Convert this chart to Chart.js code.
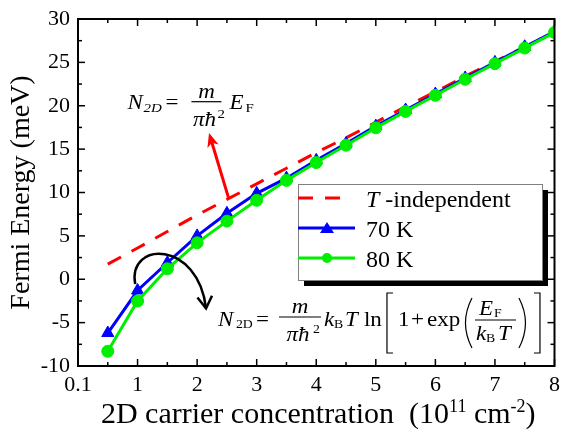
<!DOCTYPE html>
<html>
<head>
<meta charset="utf-8">
<script src="https://cdn.jsdelivr.net/npm/chart.js@4.4.0/dist/chart.umd.min.js"></script>
<style>
  html, body { margin: 0; padding: 0; background: #fff; }
</style>
</head>
<body>
<canvas id="chart" width="568" height="439"></canvas>
<script>
// carrier concentration (10^11 cm^-2); axis value 0 is labelled "0.1"
const concentration = [0.5, 1, 1.5, 2, 2.5, 3, 3.5, 4, 4.5, 5, 5.5, 6, 6.5, 7, 7.5, 8];
const tIndependent = [1.75, 3.6, 5.5, 7.4, 9.2, 11.0, 12.8, 14.6, 16.3, 18.1, 19.9, 21.6, 23.4, 25.1, 26.8, 28.5];
const fermi70K = [-6.2, -1.3, 1.9, 5.0, 7.6, 9.9, 11.65, 13.7, 15.65, 17.65, 19.5, 21.35, 23.2, 25.0, 26.8, 28.55];
const fermi80K = [-8.3, -2.5, 1.2, 4.2, 6.7, 9.1, 11.4, 13.45, 15.45, 17.45, 19.35, 21.2, 23.05, 24.85, 26.65, 28.45];
const xTickLabels = ["0.1", "1", "2", "3", "4", "5", "6", "7", "8"];
const seriesLabels = ["T -independent", "70 K", "80 K"];
// x title pieces: [text, is superscript]
const xTitleParts = [["2D carrier concentration  (10", false], ["11", true], [" cm", false], ["-2", true], [")", false]];

const serif = "'Liberation Serif', serif";

function pts(values) {
  return concentration.map((c, i) => ({ x: c, y: values[i] }));
}

function put(ctx, s, px, py, size, italic, align) {
  ctx.save();
  ctx.translate(px, py);
  ctx.scale(1.15, 1);
  ctx.font = (italic ? "italic " : "") + size + "px " + serif;
  ctx.textAlign = align || "left";
  ctx.textBaseline = "alphabetic";
  ctx.fillStyle = "#000";
  ctx.fillText(s, 0, 0);
  ctx.restore();
}

function seg(ctx, x1, y1, x2, y2) {
  ctx.beginPath();
  ctx.moveTo(x1, y1);
  ctx.lineTo(x2, y2);
  ctx.stroke();
}

// N2D = m / (pi hbar^2) E_F
function eqSimple(ctx, ax, ay) {
  put(ctx, "N", ax, ay, 20, true);
  put(ctx, "2D", ax + 16, ay + 3, 13, true);
  put(ctx, "=", ax + 38, ay, 20);
  put(ctx, "m", ax + 79, ay - 11, 20, true, "center");
  ctx.strokeStyle = "#000";
  ctx.lineWidth = 1.2;
  seg(ctx, ax + 64, ay - 7, ax + 94, ay - 7);
  put(ctx, "\u03c0\u0127", ax + 77, ay + 17, 20, true, "center");
  put(ctx, "2", ax + 90, ay + 9, 13);
  put(ctx, "E", ax + 102, ay, 20, true);
  put(ctx, "F", ax + 118, ay + 3, 13);
}

// N2D = m / (pi hbar^2) kB T ln[1 + exp(E_F / kB T)]
function eqThermal(ctx, ax, ay) {
  ctx.strokeStyle = "#000";
  ctx.lineWidth = 1.2;
  put(ctx, "N", ax, ay, 20, true);
  put(ctx, "2D", ax + 18, ay + 2, 12);
  put(ctx, "=", ax + 38, ay, 20);
  put(ctx, "m", ax + 82, ay - 13, 20, true, "center");
  seg(ctx, ax + 61, ay - 9, ax + 103, ay - 9);
  put(ctx, "\u03c0\u0127", ax + 80, ay + 15, 20, true, "center");
  put(ctx, "2", ax + 95, ay + 7, 12);
  put(ctx, "k", ax + 106, ay, 20, true);
  put(ctx, "B", ax + 116, ay + 2, 12);
  put(ctx, "T", ax + 127, ay, 20, true);
  put(ctx, "ln", ax + 146, ay, 20);
  // [
  ctx.beginPath();
  ctx.moveTo(ax + 175, ay - 33); ctx.lineTo(ax + 169, ay - 33);
  ctx.lineTo(ax + 169, ay + 27); ctx.lineTo(ax + 175, ay + 27);
  ctx.stroke();
  put(ctx, "1", ax + 180, ay, 20);
  put(ctx, "+", ax + 193, ay, 20);
  put(ctx, "exp", ax + 209, ay, 20);
  // (
  ctx.beginPath();
  ctx.moveTo(ax + 254, ay - 28);
  ctx.quadraticCurveTo(ax + 241, ay - 3, ax + 254, ay + 22);
  ctx.stroke();
  put(ctx, "E", ax + 261, ay - 11, 20, true);
  put(ctx, "F", ax + 276, ay - 9, 12);
  seg(ctx, ax + 257, ay - 6, ax + 298, ay - 6);
  put(ctx, "k", ax + 258, ay + 14, 20, true);
  put(ctx, "B", ax + 268, ay + 16, 12);
  put(ctx, "T", ax + 280, ay + 14, 20, true);
  // )
  ctx.beginPath();
  ctx.moveTo(ax + 301, ay - 28);
  ctx.quadraticCurveTo(ax + 314, ay - 3, ax + 301, ay + 22);
  ctx.stroke();
  // ]
  ctx.beginPath();
  ctx.moveTo(ax + 316, ay - 33); ctx.lineTo(ax + 322, ay - 33);
  ctx.lineTo(ax + 322, ay + 27); ctx.lineTo(ax + 316, ay + 27);
  ctx.stroke();
}

function drawXTitle(ctx, a) {
  const font = (sup) => (sup ? 18 : 30) + "px " + serif;
  let total = 0;
  xTitleParts.forEach(([s, sup]) => { ctx.font = font(sup); total += ctx.measureText(s).width; });
  let px = (a.left + a.right) / 2 - total / 2 + 2;
  ctx.fillStyle = "#000";
  ctx.textAlign = "left";
  ctx.textBaseline = "alphabetic";
  xTitleParts.forEach(([s, sup]) => {
    ctx.font = font(sup);
    ctx.fillText(s, px, sup ? 412 : 423);
    px += ctx.measureText(s).width;
  });
}

function drawLegend(ctx, chart) {
  const L = 298, T = 184, W = 244, H = 96;
  ctx.fillStyle = "#000";
  ctx.fillRect(L + 6, T + 6, W, H);
  ctx.fillStyle = "#fff";
  ctx.fillRect(L, T, W, H);
  ctx.strokeStyle = "#808080";
  ctx.lineWidth = 1;
  ctx.strokeRect(L + 0.5, T + 0.5, W, H);

  chart.data.datasets.forEach((ds, i) => {
    const cy = T + 14 + i * 30;
    ctx.strokeStyle = ds.borderColor;
    ctx.lineWidth = 3;
    ctx.setLineDash(ds.borderDash || []);
    seg(ctx, L, cy, ds.borderDash ? 342 : 355, cy);
    ctx.setLineDash([]);
    ctx.fillStyle = ds.borderColor;
    if (ds.pointStyle === "triangle") {
      ctx.beginPath();
      ctx.moveTo(327, cy - 6);
      ctx.lineTo(334, cy + 5);
      ctx.lineTo(320, cy + 5);
      ctx.closePath();
      ctx.fill();
    } else if (ds.pointRadius > 0) {
      ctx.beginPath();
      ctx.arc(327, cy, 5, 0, Math.PI * 2);
      ctx.fill();
    }
    ctx.fillStyle = "#000";
    ctx.textAlign = "left";
    ctx.textBaseline = "alphabetic";
    let tx = 366;
    let label = ds.label;
    if (label.startsWith("T ")) {
      ctx.font = "italic 24px " + serif;
      ctx.fillText("T", tx, cy + 9);
      tx += ctx.measureText("T").width;
      label = label.slice(1);
    }
    ctx.font = "24px " + serif;
    ctx.fillText(label, tx, cy + 9);
  });
}

const framePlugin = {
  id: "frameAndNotes",
  afterDraw(chart) {
    const { ctx, chartArea: a, scales: { x, y } } = chart;
    ctx.save();
    ctx.strokeStyle = "#000";
    ctx.lineWidth = 1.5;
    for (let v = 0; v <= 8; v += 0.5) {
      const px = x.getPixelForValue(v);
      const len = v % 1 === 0 ? 7 : 4;
      seg(ctx, px, a.bottom, px, a.bottom - len);
      seg(ctx, px, a.top, px, a.top + len);
    }
    for (let v = -10; v <= 30; v += 2.5) {
      const py = y.getPixelForValue(v);
      const len = v % 5 === 0 ? 7 : 4;
      seg(ctx, a.left, py, a.left + len, py);
      seg(ctx, a.right, py, a.right - len, py);
    }
    ctx.lineWidth = 2;
    ctx.strokeRect(a.left, a.top, a.right - a.left, a.bottom - a.top);

    // red arrow pointing at the T-independent formula
    const tx = x.getPixelForValue(2.53), ty = y.getPixelForValue(9.33);
    const hx = x.getPixelForValue(2.2), hy = y.getPixelForValue(16.85);
    const ang = Math.atan2(hy - ty, hx - tx);
    ctx.strokeStyle = "#ff0000";
    ctx.fillStyle = "#ff0000";
    ctx.lineWidth = 3;
    seg(ctx, tx, ty, hx - 8 * Math.cos(ang), hy - 8 * Math.sin(ang));
    ctx.beginPath();
    ctx.moveTo(hx, hy);
    ctx.lineTo(hx - 15 * Math.cos(ang - 0.4), hy - 15 * Math.sin(ang - 0.4));
    ctx.lineTo(hx - 10 * Math.cos(ang), hy - 10 * Math.sin(ang));
    ctx.lineTo(hx - 15 * Math.cos(ang + 0.4), hy - 15 * Math.sin(ang + 0.4));
    ctx.closePath();
    ctx.fill();

    // black curved arrow
    const p0 = [x.getPixelForValue(0.96), y.getPixelForValue(-0.56)];
    const p1 = [x.getPixelForValue(0.83), y.getPixelForValue(4.49)];
    const p2 = [x.getPixelForValue(2.02), y.getPixelForValue(4.49)];
    const p3 = [x.getPixelForValue(2.15), y.getPixelForValue(-3.37)];
    ctx.strokeStyle = "#000";
    ctx.lineWidth = 2.5;
    ctx.beginPath();
    ctx.moveTo(p0[0], p0[1]);
    ctx.bezierCurveTo(p1[0], p1[1], p2[0], p2[1], p3[0], p3[1]);
    ctx.stroke();
    const b = Math.atan2(p3[1] - p2[1], p3[0] - p2[0]);
    ctx.beginPath();
    ctx.moveTo(p3[0] - 14 * Math.cos(b - 0.55), p3[1] - 14 * Math.sin(b - 0.55));
    ctx.lineTo(p3[0], p3[1]);
    ctx.lineTo(p3[0] - 14 * Math.cos(b + 0.55), p3[1] - 14 * Math.sin(b + 0.55));
    ctx.stroke();

    eqSimple(ctx, x.getPixelForValue(0.83), y.getPixelForValue(19.66));
    eqThermal(ctx, x.getPixelForValue(2.35), y.getPixelForValue(-5.39));

    drawLegend(ctx, chart);
    drawXTitle(ctx, a);
    ctx.restore();
  }
};

new Chart(document.getElementById("chart"), {
  type: "line",
  data: {
    datasets: [
      {
        label: seriesLabels[0],
        data: pts(tIndependent),
        borderColor: "#ff0000",
        borderWidth: 3,
        borderDash: [15, 12],
        pointRadius: 0,
        order: 3
      },
      {
        label: seriesLabels[1],
        data: pts(fermi70K),
        borderColor: "#0000ff",
        backgroundColor: "#0000ff",
        borderWidth: 3,
        pointStyle: "triangle",
        pointRadius: 7,
        pointBorderWidth: 1,
        order: 2
      },
      {
        label: seriesLabels[2],
        data: pts(fermi80K),
        borderColor: "#00ee00",
        backgroundColor: "#00ee00",
        borderWidth: 3,
        pointStyle: "circle",
        pointRadius: 6,
        pointBorderWidth: 1,
        order: 1
      }
    ]
  },
  options: {
    responsive: false,
    animation: false,
    events: [],
    devicePixelRatio: 1,
    layout: { padding: { top: 12, right: 6, left: 0, bottom: 0 } },
    plugins: { legend: { display: false }, tooltip: { enabled: false } },
    scales: {
      x: {
        type: "linear",
        min: 0,
        max: 8,
        afterFit: (s) => { s.height = 73; },
        grid: { display: false, drawTicks: false },
        border: { display: false },
        ticks: {
          stepSize: 1,
          padding: 8,
          color: "#000",
          font: { family: serif, size: 22, lineHeight: 1 },
          callback: (v) => xTickLabels[v]
        },
        title: { display: false }
      },
      y: {
        min: -10,
        max: 30,
        afterFit: (s) => { s.width = 78; },
        grid: { display: false, drawTicks: false },
        border: { display: false },
        ticks: {
          stepSize: 5,
          padding: 8,
          color: "#000",
          font: { family: serif, size: 22, lineHeight: 1 }
        },
        title: {
          display: true,
          text: "Fermi Energy (meV)",
          color: "#000",
          font: { family: serif, size: 28 },
          padding: { top: 5, bottom: 0 }
        }
      }
    }
  },
  plugins: [framePlugin]
});
</script>
</body>
</html>
